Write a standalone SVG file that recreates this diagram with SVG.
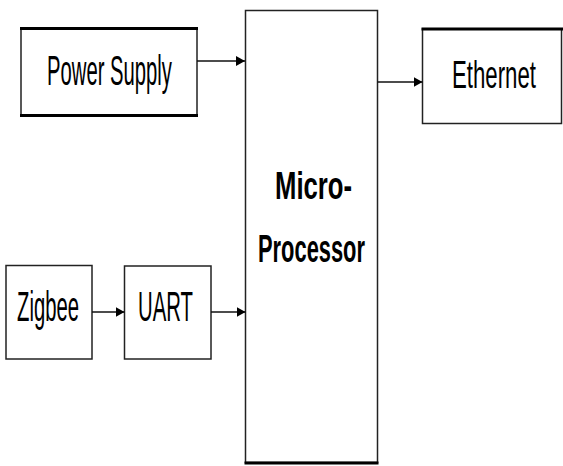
<svg xmlns="http://www.w3.org/2000/svg" width="563" height="466" viewBox="0 0 563 466">
<style>
.box{fill:#fff;stroke:#222;stroke-width:1.5}
.thick{stroke:#000;stroke-width:3}
.lbl{font-family:"Liberation Sans",Arial,sans-serif;fill:#000;text-anchor:start}
.big{font-weight:bold}
.conn{stroke:#111;stroke-width:1.5;fill:none;marker-end:url(#ah)}
</style>
<defs>
<marker id="ah" markerWidth="9" markerHeight="10" refX="9" refY="5" orient="auto" markerUnits="userSpaceOnUse">
<path d="M0,0 L9,5 L0,10 Z" fill="#000"/>
</marker>
</defs>
<rect width="563" height="466" fill="#fff"/>
<g id="power-supply">
<rect class="box" x="21" y="28.5" width="176" height="87"/>
<line class="thick" x1="20" y1="28.5" x2="198" y2="28.5"/>
<line class="thick" x1="20" y1="115.5" x2="198" y2="115.5"/>
<text class="lbl" x="47" y="85" font-size="43" textLength="125" lengthAdjust="spacingAndGlyphs">Power Supply</text>
</g>
<g id="microprocessor">
<rect class="box" x="245.5" y="10.5" width="132" height="452"/>
<line class="thick" x1="244.5" y1="463" x2="378.5" y2="463"/>
<text class="lbl big" x="275" y="199" font-size="38" textLength="77" lengthAdjust="spacingAndGlyphs">Micro-</text>
<text class="lbl big" x="258" y="262" font-size="38" textLength="107" lengthAdjust="spacingAndGlyphs">Processor</text>
</g>
<g id="ethernet">
<rect class="box" x="422.5" y="29" width="139" height="94.5"/>
<line class="thick" x1="421.5" y1="29" x2="563" y2="29"/>
<text class="lbl" transform="translate(452,88) scale(0.57,1)" x="0" y="0" font-size="39">Ethernet</text>
</g>
<g id="zigbee">
<rect class="box" x="6" y="265.5" width="86" height="93.5"/>
<text class="lbl" x="17" y="321" font-size="42" textLength="62" lengthAdjust="spacingAndGlyphs">Zigbee</text>
</g>
<g id="uart">
<rect class="box" x="124.5" y="266" width="86.5" height="93"/>
<text class="lbl" x="138" y="321" font-size="42" textLength="55" lengthAdjust="spacingAndGlyphs">UART</text>
</g>
<g id="connectors">
<line class="conn" x1="197" y1="61" x2="245" y2="61"/>
<line class="conn" x1="377.5" y1="82" x2="422.5" y2="82"/>
<line class="conn" x1="92" y1="312" x2="124.5" y2="312"/>
<line class="conn" x1="211" y1="312" x2="245.5" y2="312"/>
</g>
</svg>
